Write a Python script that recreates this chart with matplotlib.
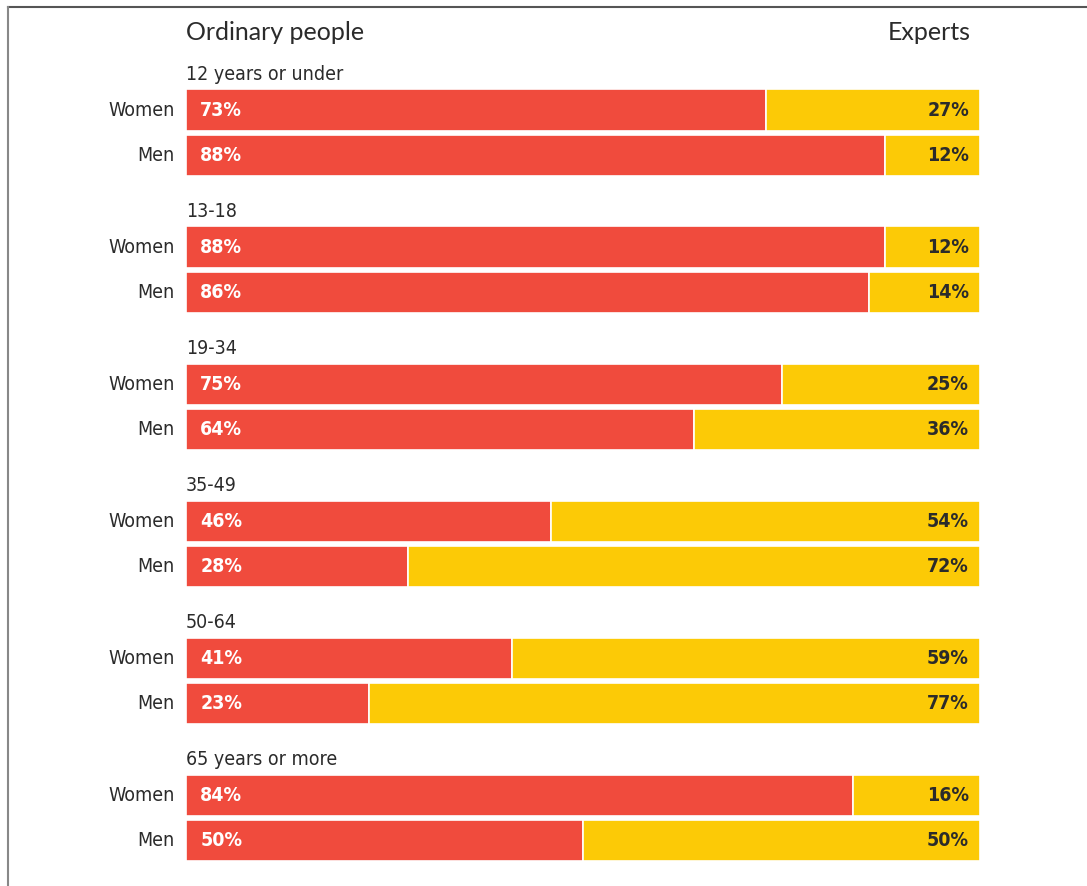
import numpy as np
import matplotlib
matplotlib.use('Agg')
import matplotlib.pyplot as plt

# share of ordinary people vs experts by age group and sex
groups = ['12 years or under', '13-18', '19-34', '35-49', '50-64', '65 years or more']
women_ordinary = [73, 88, 75, 46, 41, 84]
men_ordinary = [88, 86, 64, 28, 23, 50]
women_experts = [27, 12, 25, 54, 59, 16]
men_experts = [12, 14, 36, 72, 77, 50]

red = '#F04B3D'
yellow = '#FCCA06'
dark = '#2B2B2B'

narrow = dict(family='DejaVu Sans', stretch='condensed')

fig = plt.figure(figsize=(10.87, 8.86), dpi=100)
ax = fig.add_axes([186 / 1087, 0, 794 / 1087, 1])

# rows: label row, women, men for each group
rows_w = np.arange(len(groups)) * 3 + 1
rows_m = rows_w + 1
h = 0.9

ax.barh(rows_w, women_ordinary, height=h, color=red, edgecolor='white', linewidth=1.2)
ax.barh(rows_w, women_experts, left=women_ordinary, height=h, color=yellow, edgecolor='white', linewidth=1.2)
ax.barh(rows_m, men_ordinary, height=h, color=red, edgecolor='white', linewidth=1.2)
ax.barh(rows_m, men_experts, left=men_ordinary, height=h, color=yellow, edgecolor='white', linewidth=1.2)

fs = 14
for i, g in enumerate(groups):
    ax.text(0, rows_w[i] - h / 2 - 0.2, g, ha='left', va='baseline',
            fontsize=fs, color=dark, **narrow)
    for r, o, e, lab in [(rows_w[i], women_ordinary[i], women_experts[i], 'Women'),
                         (rows_m[i], men_ordinary[i], men_experts[i], 'Men')]:
        ax.text(-1.4, r, lab, ha='right', va='center', fontsize=fs, color=dark, **narrow)
        ax.text(1.8, r, f'{o}%', ha='left', va='center', fontsize=fs,
                color='white', fontweight='bold', **narrow)
        ax.text(98.6, r, f'{e}%', ha='right', va='center', fontsize=fs,
                color=dark, fontweight='bold', **narrow)

ax.text(0, -0.69, 'Ordinary people', ha='left', va='center', fontsize=18,
        family='Lato', color=dark)
ax.text(98.8, -0.69, 'Experts', ha='right', va='center', fontsize=18,
        family='Lato', color=dark)

ax.set_xlim(0, 100)
ax.set_ylim(17.99, -1.409)
ax.axis('off')

# frame: top and left lines
fig.add_artist(plt.Line2D([8 / 1087, 1], [1 - 7 / 886, 1 - 7 / 886], color='#555555', lw=1.5))
fig.add_artist(plt.Line2D([8 / 1087, 8 / 1087], [0, 1 - 7 / 886], color='#888888', lw=1.5))

fig.savefig('out.png', dpi=100)
